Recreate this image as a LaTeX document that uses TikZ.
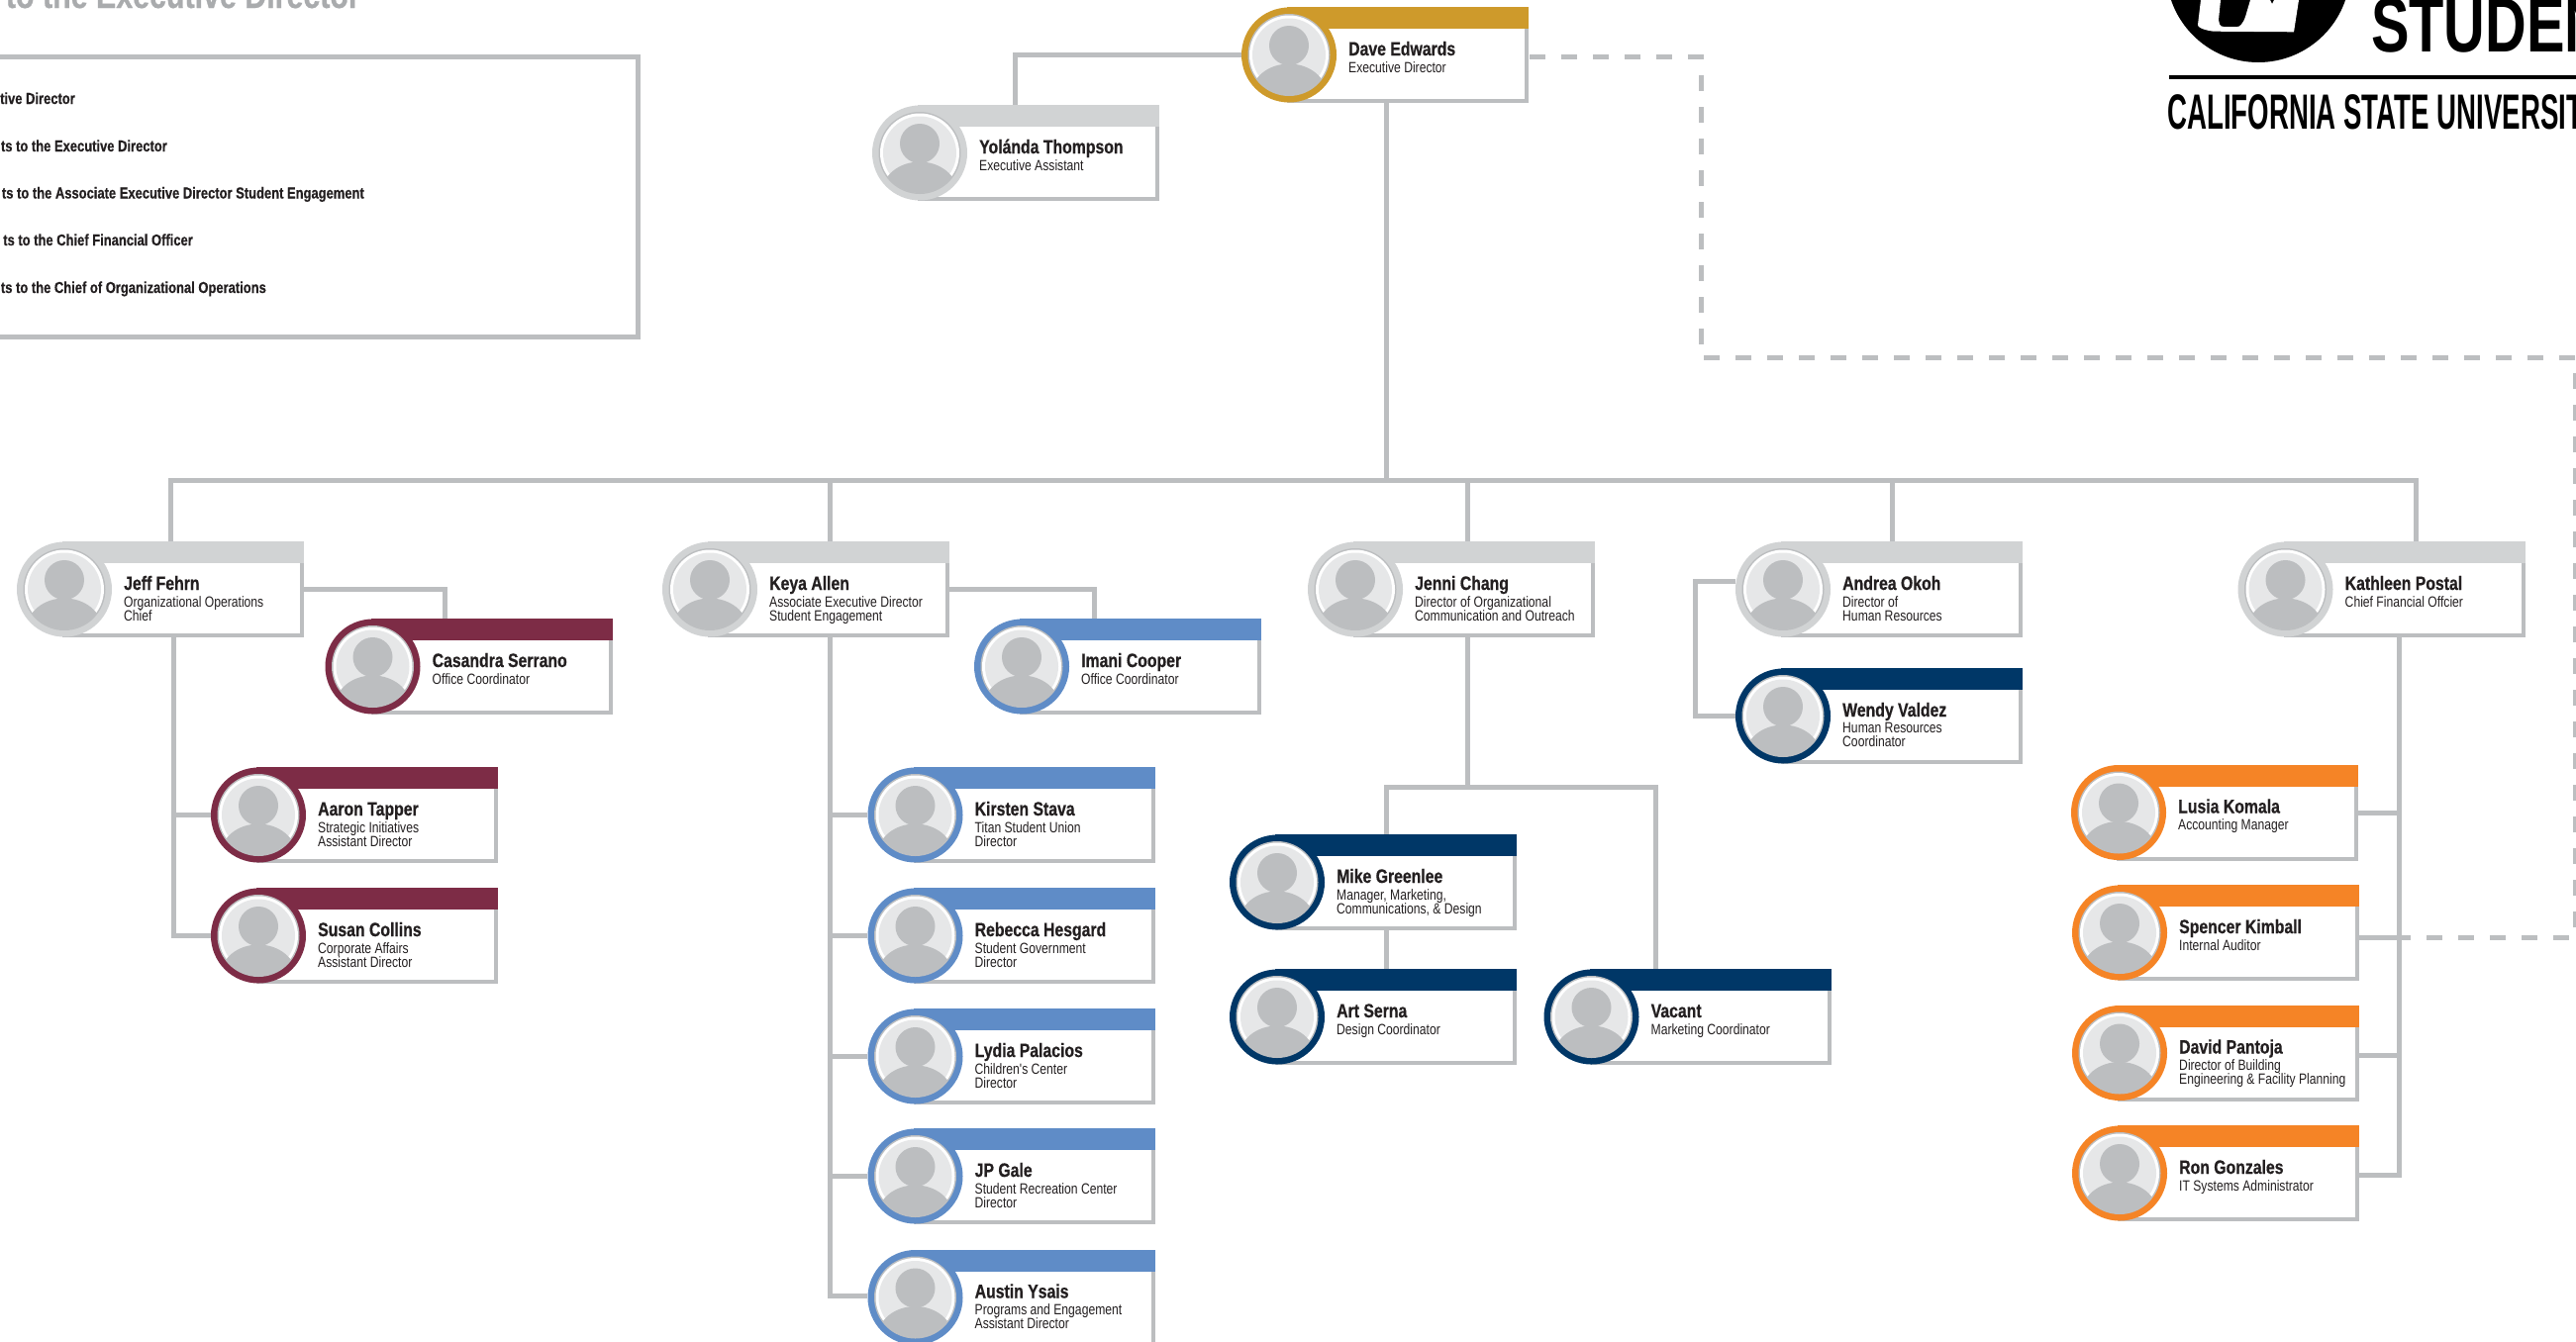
\documentclass[tikz,border=0pt]{standalone}
\usepackage{fontspec}
\setmainfont{Liberation Sans}
\newfontfamily\namefont[FakeStretch=0.81,BoldFeatures={FakeBold=0.6}]{Liberation Sans}
\newfontfamily\rolefont[FakeStretch=0.81]{Liberation Sans}
\newfontfamily\logofont[FakeStretch=0.74]{Liberation Sans}
\newfontfamily\csufont[FakeStretch=0.553]{Liberation Sans}
\usetikzlibrary{positioning}
\usetikzlibrary{calc}
\definecolor{linegray}{HTML}{BCBEC0}
\definecolor{paleGray}{HTML}{D1D3D4}
\definecolor{faceGray}{HTML}{E6E7E8}
\definecolor{inkBlack}{HTML}{231F20}
\definecolor{gold}{HTML}{CE9A2B}
\definecolor{maroon}{HTML}{7D2C46}
\definecolor{skyBlue}{HTML}{5F8CC7}
\definecolor{navy}{HTML}{003767}
\definecolor{titanOrange}{HTML}{F58426}
% id, centre of the portrait x, y, colour, person, role
\newcommand{\orgcard}[6]{
  \node[cardbox] (#1) at (#2+120,#3) {};
  \fill[#4] (#1.north west) rectangle ($(#1.north east)+(0,22)$);
  \node[avatar,fill=#4] (#1pic) at (#2,#3) {};
  \fill[linegray] (#1pic.center) circle (41.5pt);
  \fill[white] (#1pic.center) circle (40pt);
  \fill[faceGray] (#1pic.center) circle (37pt);
  \begin{scope}
    \clip (#1pic.center) circle (40.5pt);
    \fill[linegray] ($(#1pic.center)+(0,-9.5)$) circle (20pt);
    \fill[linegray] ($(#1pic.center)+(0,40)$) ellipse (38pt and 31pt);
  \end{scope}
  \node[cardname] (#1name) at (#2+60,#3+0.5) {#5};
  \node[cardrole] (#1role) at ($(#1name.base west)+(0,6)$) {#6};
}
\begin{document}
\begin{tikzpicture}[x=1pt,y=-1pt]
  \tikzstyle{cardbox}=[draw=linegray, line width=4pt, fill=white, rectangle, inner sep=0pt, minimum width=240pt, minimum height=93pt]
  \tikzstyle{avatar}=[circle, inner sep=0pt, minimum size=96pt]
  \tikzstyle{cardname}=[anchor=base west, inner sep=0pt, text=inkBlack, font=\namefont\bfseries\fontsize{19.5}{22}\selectfont]
  \tikzstyle{cardrole}=[anchor=north west, inner sep=0pt, align=left, text=inkBlack, font=\rolefont\fontsize{15}{14}\selectfont]
  \tikzstyle{orgline}=[draw=linegray, line width=5pt]
  \tikzstyle{dashline}=[draw=linegray, line width=5pt, dash pattern=on 16pt off 16pt, dash phase=28pt]
  \tikzstyle{keyline}=[anchor=base east, inner sep=0pt, text=inkBlack, font=\namefont\bfseries\fontsize{16}{18}\selectfont]
  \useasboundingbox (0,0) rectangle (2602,1355);
  \clip (0,0) rectangle (2602,1355);

  % top of the chart
  \orgcard{dave}{1302}{55.5}{gold}{Dave Edwards}{Executive Director}
  \orgcard{yolanda}{929}{154.5}{paleGray}{Yolánda Thompson}{Executive Assistant}

  % second row
  \orgcard{jeff}{65}{595.5}{paleGray}{Jeff Fehrn}{Organizational Operations\\Chief}
  \orgcard{keya}{717}{595.5}{paleGray}{Keya Allen}{Associate Executive Director\\Student Engagement}
  \orgcard{jenni}{1369}{595.5}{paleGray}{Jenni Chang}{Director of Organizational\\Communication and Outreach}
  \orgcard{andrea}{1801}{595.5}{paleGray}{Andrea Okoh}{Director of\\Human Resources}
  \orgcard{kathleen}{2308.5}{595.5}{paleGray}{Kathleen Postal}{Chief Financial Offcier}

  % under Jeff
  \orgcard{casandra}{376.5}{673.5}{maroon}{Casandra Serrano}{Office Coordinator}
  \orgcard{aaron}{261}{823.5}{maroon}{Aaron Tapper}{Strategic Initiatives\\Assistant Director}
  \orgcard{susan}{261}{945.5}{maroon}{Susan Collins}{Corporate Affairs\\Assistant Director}

  % under Keya
  \orgcard{imani}{1032}{673.5}{skyBlue}{Imani Cooper}{Office Coordinator}
  \orgcard{kirsten}{924.5}{823.5}{skyBlue}{Kirsten Stava}{Titan Student Union\\Director}
  \orgcard{rebecca}{924.5}{945.5}{skyBlue}{Rebecca Hesgard}{Student Government\\Director}
  \orgcard{lydia}{924.5}{1067.5}{skyBlue}{Lydia Palacios}{Children's Center\\Director}
  \orgcard{jp}{924.5}{1188.5}{skyBlue}{JP Gale}{Student Recreation Center\\Director}
  \orgcard{austin}{924.5}{1311}{skyBlue}{Austin Ysais}{Programs and Engagement\\Assistant Director}

  % under Jenni and Andrea
  \orgcard{mike}{1290}{891.5}{navy}{Mike Greenlee}{Manager, Marketing,\\Communications, \& Design}
  \orgcard{art}{1290}{1027.5}{navy}{Art Serna}{Design Coordinator}
  \orgcard{vacant}{1607.5}{1027.5}{navy}{Vacant}{Marketing Coordinator}
  \orgcard{wendy}{1801}{723.5}{navy}{Wendy Valdez}{Human Resources\\Coordinator}

  % under Kathleen
  \orgcard{lusia}{2140}{821}{titanOrange}{Lusia Komala}{Accounting Manager}
  \orgcard{spencer}{2141}{942.5}{titanOrange}{Spencer Kimball}{Internal Auditor}
  \orgcard{david}{2141}{1064}{titanOrange}{David Pantoja}{Director of Building\\Engineering \& Facility Planning}
  \orgcard{ron}{2141}{1185.5}{titanOrange}{Ron Gonzales}{IT Systems Administrator}

  % the bus
  \coordinate (bus) at ($(dave.south)+(-22,381)$);
  \path [orgline] ([xshift=-22pt]dave.south) -- (bus);
  \path [orgline] (bus) -| ([xshift=-13pt]jeff.north);
  \path [orgline] (bus) -| ([xshift=1pt]keya.north);
  \path [orgline] (bus) -| ([xshift=-7pt]jenni.north);
  \path [orgline] (bus) -| ([xshift=-10pt]andrea.north);
  \path [orgline] (bus) -| ([xshift=11.5pt]kathleen.north);
  \path [orgline] (davepic.west) -| ([xshift=-24pt]yolanda.north);

  % Jeff
  \coordinate (jefftrunk) at ([xshift=-10pt]jeff.south);
  \path [orgline] (jeff.east) -| ([xshift=-47.5pt]casandra.north);
  \path [orgline] (jefftrunk) |- (susanpic.west);
  \path [orgline] (jefftrunk |- aaronpic.west) -- (aaronpic.west);

  % Keya
  \coordinate (keyatrunk) at ([xshift=1pt]keya.south);
  \path [orgline] (keya.east) -| ([xshift=-47pt]imani.north);
  \path [orgline] (keyatrunk) |- ([yshift=2pt]austinpic.west);
  \path [orgline] (keyatrunk |- kirstenpic.west) -- (kirstenpic.west);
  \path [orgline] (keyatrunk |- rebeccapic.west) -- (rebeccapic.west);
  \path [orgline] (keyatrunk |- lydiapic.west) -- (lydiapic.west);
  \path [orgline] (keyatrunk |- jppic.west) -- (jppic.west);

  % Jenni
  \coordinate (jennifork) at ($(jenni.south)+(-7,151)$);
  \path [orgline] ([xshift=-7pt]jenni.south) -- (jennifork);
  \path [orgline] (jennifork) -| ([xshift=-10pt]mike.north);
  \path [orgline] (jennifork) -| ([xshift=-55pt]vacant.north);
  \path [orgline] ([xshift=-10pt]mike.south) -- ([xshift=-10pt]art.north);

  % Andrea
  \path [orgline] ([yshift=8.5pt]andreapic.west) -- ++(-40,0) |- (wendypic.west);

  % Kathleen
  \coordinate (kathleentrunk) at ([xshift=-5.5pt]kathleen.south);
  \path [orgline] (kathleentrunk) |- ([yshift=-1.5pt]ron.east);
  \path [orgline] (kathleentrunk |- lusia.east) -- (lusia.east);
  \path [orgline] ([yshift=-4.5pt]spencer.east) -- ([yshift=-4.5pt]spencer.east -| kathleentrunk);
  \path [orgline] ([yshift=-2pt]david.east) -- ([yshift=-2pt]david.east -| kathleentrunk);

  % dotted reporting line
  \coordinate (dashcornera) at (2601,361);
  \coordinate (dashcornerb) at (1718,361);
  \path [dashline] ([yshift=-4.5pt]spencer.east) -| (dashcornera) -- (dashcornerb) |- ([yshift=-1.5pt]dave.east);

  % key
  \node[anchor=base east, inner sep=0pt, text=linegray!90!black, font=\namefont\bfseries\fontsize{37.5}{40}\selectfont] (keytitle) at (364,8) {to the Executive Director};
  \node[draw=linegray, line width=5pt, anchor=north east, inner sep=0pt, minimum width=660pt, minimum height=283pt, outer sep=0pt] (keybox) at (644,57) {};
  \node[keyline] (keya1) at (76,105) {tive Director};
  \node[keyline] (keyb1) at (169,153) {ts to the Executive Director};
  \node[keyline] (keyc1) at (368,200.5) {ts to the Associate Executive Director Student Engagement};
  \node[keyline] (keyd1) at (195,248) {ts to the Chief Financial Officer};
  \node[keyline] (keye1) at (269,296) {ts to the Chief of Organizational Operations};

  % logo
  \node[circle, fill=black, inner sep=0pt, minimum size=186pt] (seal) at (2281,-30) {};
  \fill[white] (2223,0) -- (2220,25) .. controls (2220,29) and (2232,31.5) .. (2237,31.7) -- (2317,32.3) -- (2322,0) -- (2297,0) -- (2295,4) -- (2293,0) -- (2273,0) -- (2268,17) .. controls (2265,25) and (2262,27) .. (2260,27) -- (2246,27) .. controls (2242,27) and (2241,23) .. (2241,20) -- (2243,0) -- cycle;
  \node[anchor=base west, inner sep=0pt, text=black, font=\logofont\bfseries\fontsize{78}{80}\selectfont] (student) at (2395,52) {STUDEN};
  \node[anchor=base west, inner sep=0pt, text=black, font=\csufont\bfseries\fontsize{50}{52}\selectfont] (csu) at (2189,130) {CALIFORNIA STATE UNIVERSIT};
  \coordinate (rulestart) at (2191,78);
  \draw[black, line width=3.5pt] (rulestart) -- (2602,78);
\end{tikzpicture}
\end{document}
